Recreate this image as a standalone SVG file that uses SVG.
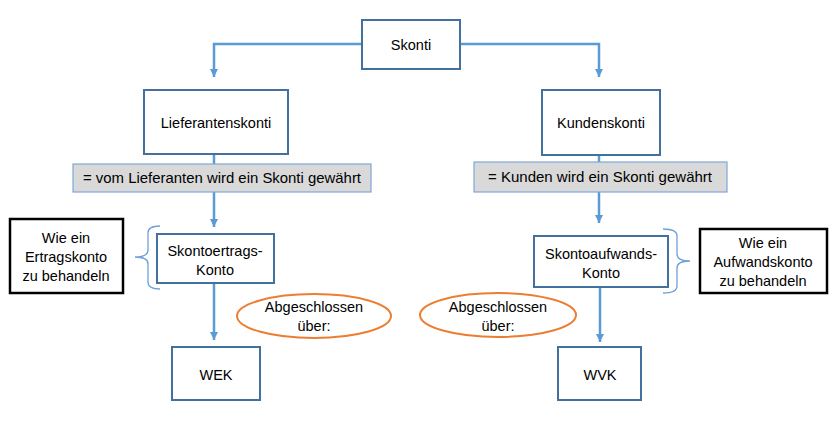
<svg xmlns="http://www.w3.org/2000/svg" width="837" height="431" viewBox="0 0 837 431">
<style>
text{font-family:"Liberation Sans",Arial,sans-serif;font-size:14.5px;fill:#000;text-anchor:middle}
.box{fill:#fff;stroke:#41719C;stroke-width:2}
.note{fill:#fff;stroke:#000;stroke-width:2.5}
.grey{fill:#D9D9D9;stroke:#7FA7D4;stroke-width:1.2}
.conn{fill:none;stroke:#5B9BD5;stroke-width:2.5}
.brace{fill:none;stroke:#6FA0D8;stroke-width:1.3}
.ell{fill:#fff;stroke:#ED7D31;stroke-width:2}
</style>
<defs>
<marker id="arr" viewBox="0 0 10 10" refX="10" refY="5" markerWidth="3.4" markerHeight="3.4" orient="auto" markerUnits="strokeWidth">
<path d="M0,0 L10,5 L0,10 z" fill="#5B9BD5"/>
</marker>
</defs>
<rect width="837" height="431" fill="#fff"/>
<g id="connectors">
<path class="conn" d="M362,44 H214 V77" marker-end="url(#arr)"/>
<path class="conn" d="M460,44 H599 V77" marker-end="url(#arr)"/>
<path class="conn" d="M214,154 V227" marker-end="url(#arr)"/>
<path class="conn" d="M599,155 V223" marker-end="url(#arr)"/>
<path class="conn" d="M214,283 V340" marker-end="url(#arr)"/>
<path class="conn" d="M600,287 V342" marker-end="url(#arr)"/>
<path class="brace" d="M160,226 Q148,226 148,233 L148,250 Q148,257 135,257 Q148,257 148,264 L148,282 Q148,289 160,289"/>
<path class="brace" d="M663,229 Q677,229 677,236 L677,254 Q677,261 690,261 Q677,261 677,268 L677,286 Q677,293 663,293"/>
</g>
<g id="skonti"><rect class="box" x="362" y="20" width="98" height="49"/><text x="411" y="50">Skonti</text></g>
<g id="lieferantenskonti"><rect class="box" x="144" y="90" width="144" height="64"/><text x="216" y="128">Lieferantenskonti</text></g>
<g id="kundenskonti"><rect class="box" x="542" y="90" width="118" height="65"/><text x="601" y="128">Kundenskonti</text></g>
<g id="def-lief"><rect class="grey" x="73" y="164" width="298" height="28"/><text x="222" y="183" textLength="278" lengthAdjust="spacingAndGlyphs">= vom Lieferanten wird ein Skonti gewährt</text></g>
<g id="def-kund"><rect class="grey" x="474" y="162" width="253" height="30"/><text x="600" y="182" textLength="224" lengthAdjust="spacingAndGlyphs">= Kunden wird ein Skonti gewährt</text></g>
<g id="skontoertrag"><rect class="box" x="157" y="234" width="117" height="49"/><text x="215" y="256">Skontoertrags-</text><text x="215" y="275">Konto</text></g>
<g id="skontoaufwand"><rect class="box" x="534" y="236" width="134" height="51"/><text x="601" y="259">Skontoaufwands-</text><text x="601" y="278">Konto</text></g>
<g id="note-ertrag"><rect class="note" x="10" y="219" width="113" height="74"/><text x="66" y="243">Wie ein</text><text x="66" y="262">Ertragskonto</text><text x="66" y="281">zu behandeln</text></g>
<g id="note-aufwand"><rect class="note" x="700" y="229" width="127" height="64"/><text x="763" y="248">Wie ein</text><text x="763" y="267">Aufwandskonto</text><text x="763" y="286">zu behandeln</text></g>
<g id="abg-left"><ellipse class="ell" cx="314" cy="316" rx="77" ry="22"/><text x="314" y="312">Abgeschlossen</text><text x="314" y="331">über:</text></g>
<g id="abg-right"><ellipse class="ell" cx="498" cy="315" rx="78" ry="22"/><text x="498" y="312">Abgeschlossen</text><text x="498" y="331">über:</text></g>
<g id="wek"><rect class="box" x="172" y="347" width="88" height="53"/><text x="216" y="380">WEK</text></g>
<g id="wvk"><rect class="box" x="558" y="347" width="83" height="53"/><text x="600" y="380">WVK</text></g>
</svg>
